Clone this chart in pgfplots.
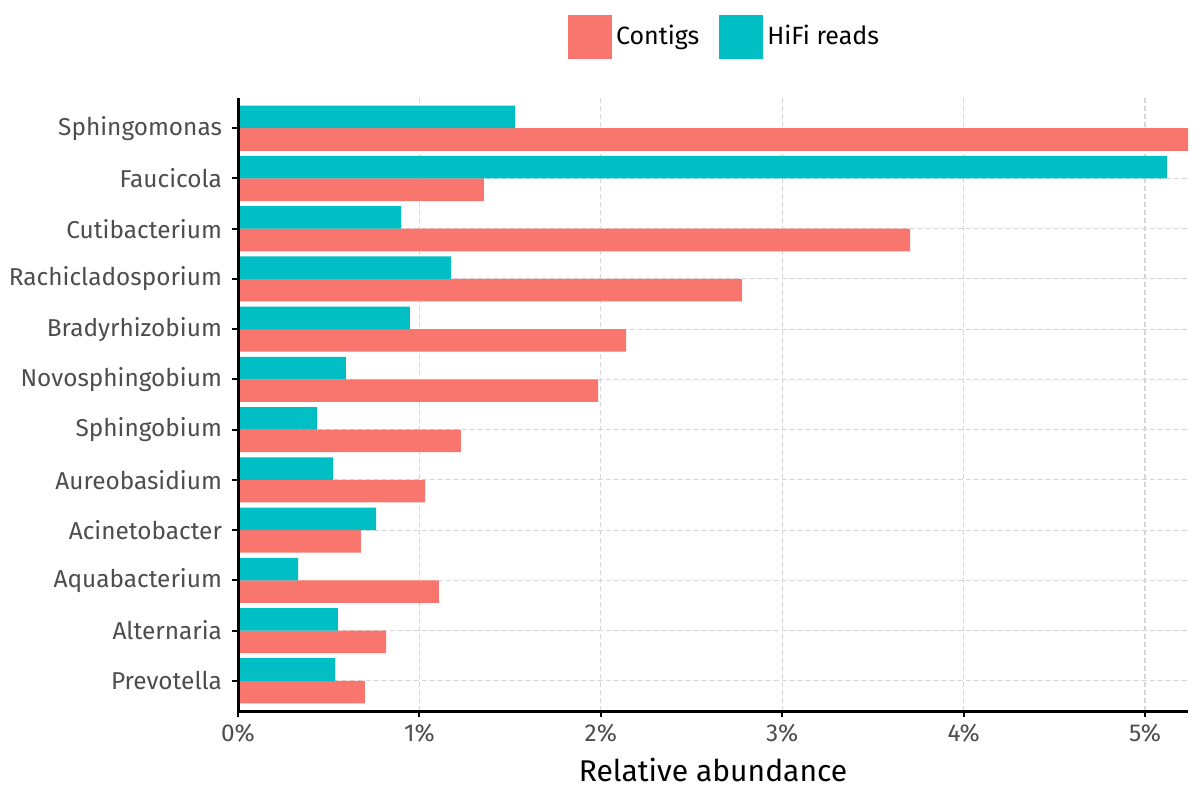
\documentclass[border=0pt]{standalone}
\usepackage{pgfplots}
\pgfplotsset{compat=1.18}
\usepackage{fontspec}
\setmainfont{Fira Sans}
\definecolor{contig}{HTML}{F8766D}
\definecolor{hifi}{HTML}{00BFC4}
\definecolor{gridc}{HTML}{D6D6D6}
\definecolor{ticktext}{HTML}{4D4D4D}
\pgfplotsset{
  layers/barsover/.define layer set={axis background,axis grid,main,axis ticks,axis lines,axis tick labels,axis descriptions,axis foreground}{
    grid style={/pgfplots/on layer=axis grid},
    tick style={/pgfplots/on layer=axis ticks},
    axis line style={/pgfplots/on layer=axis lines},
    label style={/pgfplots/on layer=axis descriptions},
    legend style={/pgfplots/on layer=axis descriptions},
    title style={/pgfplots/on layer=axis descriptions},
    colorbar style={/pgfplots/on layer=axis descriptions},
    ticklabel style={/pgfplots/on layer=axis tick labels},
    axis background@ style={/pgfplots/on layer=axis background},
    3d box foreground style={/pgfplots/on layer=axis foreground},
  },
}

\begin{document}
\begin{tikzpicture}
\path (0,0) rectangle (600pt,400pt);
\begin{axis}[
    set layers=barsover,
    at={(119pt,44.5pt)}, anchor=south west,
    scale only axis, width=475pt, height=306.5pt,
    xbar, bar width=0.45,
    xmin=0, xmax=5.237, ymin=-0.6, ymax=11.6,
    axis lines=left,
    axis line style={-, line width=1.5pt, black},
    x axis line style={line width=1.5pt},
    y axis line style={line width=1.5pt},
    xtick={0,1,2,3,4,5},
    xticklabels={0\%,1\%,2\%,3\%,4\%,5\%},
    ytick={0,...,11},
    yticklabels={Prevotella,Alternaria,Aquabacterium,Acinetobacter,Aureobasidium,Sphingobium,Novosphingobium,Bradyrhizobium,Rachicladosporium,Cutibacterium,Faucicola,Sphingomonas},
    tick align=outside, major tick length=3pt,
    tick style={black, line width=1pt},
    tick label style={font=\fontsize{12.2}{14}\selectfont, text=ticktext},
    yticklabel style={xshift=-1.5pt},
    xmajorgrids, ymajorgrids,
    grid style={gridc, line width=0.6pt, dash pattern=on 2.5pt off 1.5pt},
    xlabel={Relative abundance},
    xlabel style={font=\fontsize{15}{17}\selectfont, yshift=-1pt},
    legend style={at={(0.347,1.100)}, anchor=west, draw=none, inner sep=0pt,
        font=\fontsize{12.5}{14}\selectfont,
        /tikz/every even column/.append style={column sep=8pt}},
    legend columns=2,
    legend cell align=left,
    legend image code/.code={\fill[#1] (0pt,-11pt) rectangle (22pt,11pt);},
]
\addplot[fill=contig, draw=none, bar shift=-0.225] coordinates {
    (0.700,0) (0.816,1) (1.108,2) (0.678,3) (1.031,4) (1.229,5)
    (1.985,6) (2.139,7) (2.778,8) (3.705,9) (1.356,10) (5.237,11)
};
\addlegendentry{Contigs}
\addplot[fill=hifi, draw=none, bar shift=0.225] coordinates {
    (0.535,0) (0.551,1) (0.331,2) (0.761,3) (0.524,4) (0.436,5)
    (0.595,6) (0.948,7) (1.174,8) (0.899,9) (5.121,10) (1.527,11)
};
\addlegendentry{HiFi reads}
\end{axis}
\end{tikzpicture}
\end{document}
